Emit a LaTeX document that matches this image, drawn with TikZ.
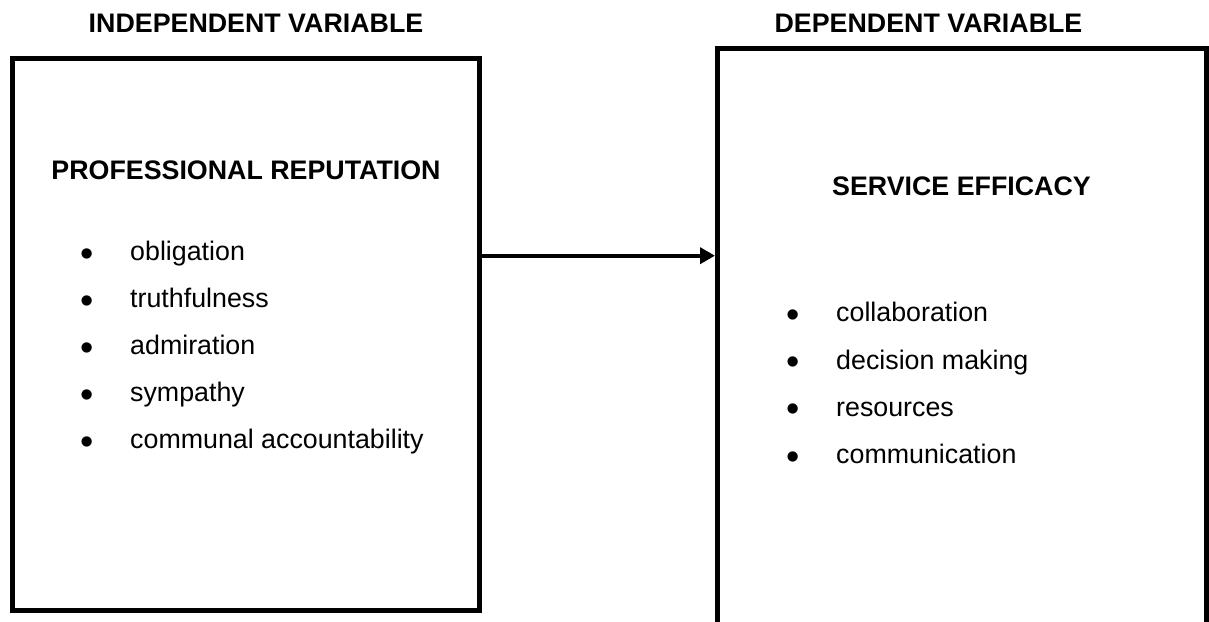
\documentclass[tikz,border=0pt]{standalone}
\usepackage{fontspec}
\setmainfont{Liberation Sans}
\usetikzlibrary{arrows.meta}
\begin{document}
\begin{tikzpicture}[x=1bp,y=-1bp,
  varbox/.style={draw=black,line width=5bp,rectangle,inner sep=0pt},
  head/.style={font=\fontsize{26.9}{31}\selectfont\bfseries,anchor=base,inner sep=0pt},
  item/.style={font=\fontsize{26.9}{31}\selectfont,anchor=base west,inner sep=0pt},
  bul/.style={font=\fontsize{38}{40}\selectfont,inner sep=0pt,anchor=center},
  link/.style={line width=4bp,-{Triangle[length=15bp,width=16bp]}}]
\clip (0,0) rectangle (1209,622);
% boxes
\node[varbox,anchor=north west,minimum width=467bp,minimum height=551.5bp] (L) at (10,56.5) {};
\node[varbox,anchor=north west,minimum width=488.5bp,minimum height=700bp] (R) at (715,46) {};
% headings
\node[head] (hi) at (256,33) {INDEPENDENT VARIABLE};
\node[head] (hd) at (928.5,32.5) {DEPENDENT VARIABLE};
\node[head] (tl) at (246,180) {PROFESSIONAL REPUTATION};
\node[head] (tr) at (961.5,196) {SERVICE EFFICACY};
% left list
\foreach \t [count=\i] in {obligation,truthfulness,admiration,sympathy,communal accountability}{
  \node[bul] (lb\i) at (86.7,{257.2+47*(\i-1)}) {•};
  \node[item] (lt\i) at (130,{260.7+47*(\i-1)}) {\t};
}
% right list
\foreach \t [count=\i] in {collaboration,decision making,resources,communication}{
  \node[bul] (rb\i) at (793,{318.5+47.3*(\i-1)}) {•};
  \node[item] (rt\i) at (836,{322+47.3*(\i-1)}) {\t};
}
% arrow
\coordinate (ay) at (600,255.7);
\draw[link] (L.east |- ay) -- (R.west |- ay);
\end{tikzpicture}
\end{document}
